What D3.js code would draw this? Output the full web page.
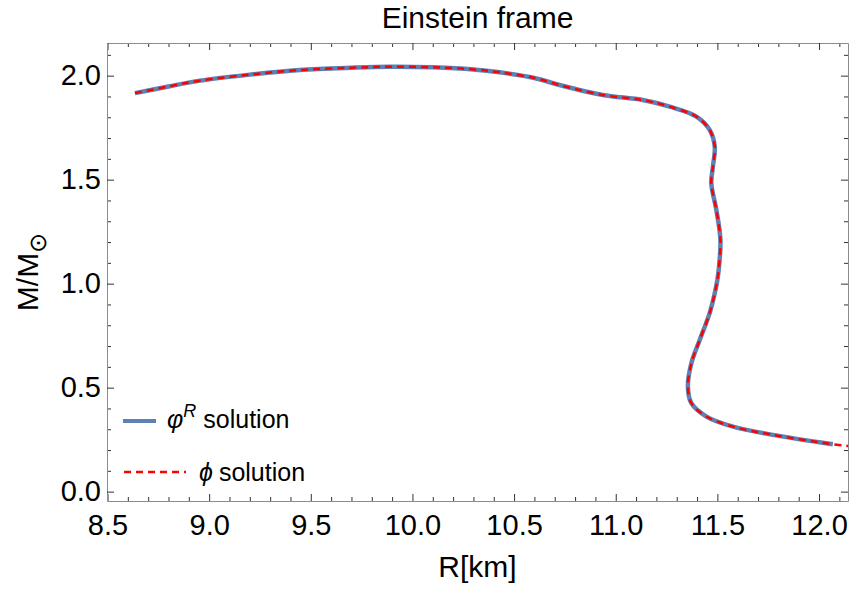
<!DOCTYPE html>
<html>
<head>
<meta charset="utf-8">
<script src="https://cdn.jsdelivr.net/npm/d3@7"></script>
<style>
  body { margin: 0; background: #fff; }
  svg { display: block; font-family: "Liberation Sans", Arial, sans-serif; }
  .frame .domain { stroke: #8c8c8c; }
  .frame .tick line { stroke: #333; }
  .frame .tick text { fill: #000; font-family: "Liberation Sans", Arial, sans-serif; font-size: 29px; }
</style>
</head>
<body>
<div id="chart"></div>
<script>
// --- data ---
// phi^R solution (blue, solid)
const rValues = [8.635, 8.80, 8.955, 9.20, 9.446, 9.70, 9.889, 10.10, 10.30, 10.43, 10.60, 10.724,
                 10.936, 11.133, 11.265, 11.397, 11.462, 11.487, 11.478, 11.470, 11.495, 11.515,
                 11.508, 11.500, 11.487, 11.462, 11.413, 11.372, 11.355, 11.372, 11.446, 11.577,
                 11.773, 12.068];
const mValues = [1.916, 1.948, 1.976, 2.005, 2.027, 2.038, 2.043, 2.040, 2.030, 2.016, 1.989, 1.955,
                 1.907, 1.883, 1.851, 1.803, 1.739, 1.659, 1.5625, 1.483, 1.354, 1.210,
                 1.082, 1.018, 0.954, 0.858, 0.729, 0.617, 0.505, 0.425, 0.361, 0.3125,
                 0.273, 0.228];
// phi solution (red, dashed) - same branch, runs a little further right
const phiR = [8.635, 8.80, 8.955, 9.20, 9.446, 9.70, 9.889, 10.10, 10.30, 10.43, 10.60, 10.724,
              10.936, 11.133, 11.265, 11.397, 11.462, 11.487, 11.478, 11.470, 11.495, 11.515,
              11.508, 11.500, 11.487, 11.462, 11.413, 11.372, 11.355, 11.372, 11.446, 11.577,
              11.773, 12.068, 12.17];
const phiM = [1.916, 1.948, 1.976, 2.005, 2.027, 2.038, 2.043, 2.040, 2.030, 2.016, 1.989, 1.955,
              1.907, 1.883, 1.851, 1.803, 1.739, 1.659, 1.5625, 1.483, 1.354, 1.210,
              1.082, 1.018, 0.954, 0.858, 0.729, 0.617, 0.505, 0.425, 0.361, 0.3125,
              0.273, 0.228, 0.217];

const xMajor = [8.5, 9.0, 9.5, 10.0, 10.5, 11.0, 11.5, 12.0];
const yMajor = [0.0, 0.5, 1.0, 1.5, 2.0];
const xMinor = d3.range(85, 122).map(v => v / 10).filter(v => !xMajor.some(m => Math.abs(m - v) < 1e-9));
const yMinor = d3.range(0, 22).map(v => v / 10).filter(v => !yMajor.some(m => Math.abs(m - v) < 1e-9));

// --- layout ---
const width = 852, height = 590;
const plot = { left: 107, right: 848, top: 43, bottom: 501 };

const svg = d3.select("#chart").append("svg")
    .attr("width", width).attr("height", height);

const x = d3.scaleLinear().domain([8.4975, 12.1425]).range([plot.left, plot.right]);
const y = d3.scaleLinear().domain([-0.045, 2.157]).range([plot.bottom, plot.top]);

svg.append("defs").append("clipPath").attr("id", "clip")
  .append("rect")
    .attr("x", plot.left).attr("y", plot.top)
    .attr("width", plot.right - plot.left).attr("height", plot.bottom - plot.top);

// frame: ticks on all four sides, pointing inward
function frameAxis(axisFn, scale, major, minor, transform, labels) {
    const gMinor = svg.append("g").attr("class", "frame").attr("transform", transform)
        .call(axisFn(scale).tickValues(minor).tickSize(-4).tickFormat(""));
    gMinor.select(".domain").remove();
    const g = svg.append("g").attr("class", "frame").attr("transform", transform)
        .call(axisFn(scale).tickValues(major).tickSizeInner(-7).tickSizeOuter(0)
            .tickPadding(axisFn === d3.axisLeft ? 6 : 13)
            .tickFormat(labels ? d3.format(".1f") : ""));
    return g;
}
frameAxis(d3.axisBottom, x, xMajor, xMinor, `translate(0,${plot.bottom})`, true);
frameAxis(d3.axisTop, x, xMajor, xMinor, `translate(0,${plot.top})`, false);
frameAxis(d3.axisLeft, y, yMajor, yMinor, `translate(${plot.left},0)`, true);
frameAxis(d3.axisRight, y, yMajor, yMinor, `translate(${plot.right},0)`, false);

// curves
const line = d3.line()
    .x(d => x(d[0])).y(d => y(d[1]))
    .curve(d3.curveCatmullRom.alpha(0.5));

const curves = svg.append("g").attr("clip-path", "url(#clip)");
curves.append("path")
    .datum(d3.zip(rValues, mValues))
    .attr("d", line)
    .attr("fill", "none")
    .attr("stroke", "#5e81b5")
    .attr("stroke-width", 4.5);
curves.append("path")
    .datum(d3.zip(phiR, phiM))
    .attr("d", line)
    .attr("fill", "none")
    .attr("stroke", "#ff0000")
    .attr("stroke-width", 2.5)
    .attr("stroke-dasharray", "7,5");

// title and axis labels
svg.append("text")
    .attr("x", (plot.left + plot.right) / 2).attr("y", 28)
    .attr("text-anchor", "middle").attr("font-size", 30)
    .text("Einstein frame");

svg.append("text")
    .attr("x", (plot.left + plot.right) / 2).attr("y", 577)
    .attr("text-anchor", "middle").attr("font-size", 30)
    .text("R[km]");

const yl = svg.append("text")
    .attr("transform", "translate(38,272) rotate(-90)")
    .attr("text-anchor", "middle").attr("font-size", 30);
yl.append("tspan").text("M/M");
yl.append("tspan").attr("dy", 8).attr("font-size", 24).text("\u2299");

// legend
const legend = svg.append("g");
legend.append("line")
    .attr("x1", 123).attr("x2", 156).attr("y1", 421).attr("y2", 421)
    .attr("stroke", "#5e81b5").attr("stroke-width", 4);
const t1 = legend.append("text").attr("x", 167).attr("y", 428).attr("font-size", 25);
t1.append("tspan").attr("font-style", "italic").text("\u03c6");
t1.append("tspan").attr("font-style", "italic").attr("font-size", 18).attr("dy", -11).text("R");
t1.append("tspan").attr("dy", 11).attr("dx", 7).text("solution");

legend.append("line")
    .attr("x1", 124).attr("x2", 186).attr("y1", 472).attr("y2", 472)
    .attr("stroke", "#ff0000").attr("stroke-width", 2.5).attr("stroke-dasharray", "7,5");
const t2 = legend.append("text").attr("x", 199).attr("y", 481).attr("font-size", 25);
t2.append("tspan").attr("font-style", "italic").text("\u03d5");
t2.append("tspan").attr("dx", 6).text("solution");
</script>
</body>
</html>
